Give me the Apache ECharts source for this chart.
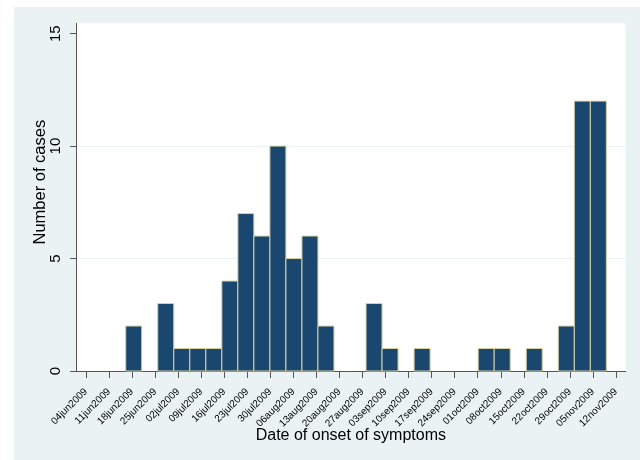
<!DOCTYPE html>
<html><head><meta charset="utf-8">
<script src="https://cdn.jsdelivr.net/npm/echarts@6/dist/echarts.min.js"></script>
<style>html,body{margin:0;padding:0;background:#fff;}#chart{position:absolute;left:14px;top:7px;width:626px;height:453px;}</style>
</head><body><div id="chart"></div>
<script>
// x values are days after 04jun2009
const binStartDay = 12.06;
const binWidthDays = 4.867;
const binCounts = [2,0,3,1,1,1,4,7,6,10,5,6,2,0,0,3,1,0,1,0,0,0,1,1,0,1,0,2,12,12];
const tickDays = [0,7,14,21,28,35,42,49,56,63,70,77,84,91,98,105,112,119,126,133,140,147,154,161];
const tickLabels = ['04jun2009','11jun2009','18jun2009','25jun2009','02jul2009','09jul2009','16jul2009','23jul2009','30jul2009','06aug2009','13aug2009','20aug2009','27aug2009','03sep2009','10sep2009','17sep2009','24sep2009','01oct2009','08oct2009','15oct2009','22oct2009','29oct2009','05nov2009','12nov2009'];
const yTicks = [0,5,10,15];

const bins = binCounts.map((c, i) => [binStartDay + i * binWidthDays, binStartDay + (i + 1) * binWidthDays, c]);
const FONT = "'Liberation Sans', Arial, Helvetica, sans-serif";

const chart = echarts.init(document.getElementById('chart'));
chart.setOption({
  animation: false,
  backgroundColor: '#eaf2f3',
  textStyle: { fontFamily: FONT },
  grid: { left: 62, right: 14.3, top: 16.3, bottom: 89, show: true, backgroundColor: '#ffffff', borderWidth: 0 },
  xAxis: {
    type: 'value', min: -3.04, max: 163.95,
    name: 'Date of onset of symptoms', nameLocation: 'middle', nameGap: 57, nameMoveOverlap: false,
    nameTextStyle: { fontSize: 16, color: '#000', fontFamily: FONT },
    axisLine: { show: true, onZero: false, lineStyle: { color: '#555', width: 1 } },
    axisTick: { show: true, length: 7, customValues: tickDays, lineStyle: { color: '#555' } },
    axisLabel: { customValues: tickDays, rotate: 45, fontSize: 10, margin: 19, color: '#000', fontFamily: FONT,
      formatter: v => tickLabels[tickDays.indexOf(v)] },
    splitLine: { show: false }
  },
  yAxis: {
    type: 'value', min: 0, max: 15.46, interval: 5,
    name: 'Number of cases', nameLocation: 'middle', nameGap: 27, nameMoveOverlap: false,
    nameTextStyle: { fontSize: 16.5, color: '#000', fontFamily: FONT, padding: [0, 0, 0, 30] },
    axisLine: { show: true, onZero: false, lineStyle: { color: '#555', width: 1 } },
    axisTick: { show: true, length: 6, customValues: yTicks, lineStyle: { color: '#555' } },
    axisLabel: { customValues: yTicks, rotate: 90, fontSize: 15, margin: 13, color: '#000', fontFamily: FONT },
    splitLine: { show: true, showMinLine: false, showMaxLine: false, lineStyle: { color: '#eaf2f3', width: 1 } }
  },
  series: [{
    type: 'custom',
    data: bins,
    encode: { x: [0, 1], y: 2 },
    renderItem: function (params, api) {
      const c = api.value(2);
      if (!c) return null;
      const p0 = api.coord([api.value(0), 0]);
      const p1 = api.coord([api.value(1), c]);
      return {
        type: 'rect',
        shape: { x: p0[0], y: p1[1], width: p1[0] - p0[0], height: p0[1] - p1[1] },
        style: { fill: '#1a476f', stroke: '#d8d3a4', lineWidth: 1 }
      };
    }
  }]
});
</script></body></html>
